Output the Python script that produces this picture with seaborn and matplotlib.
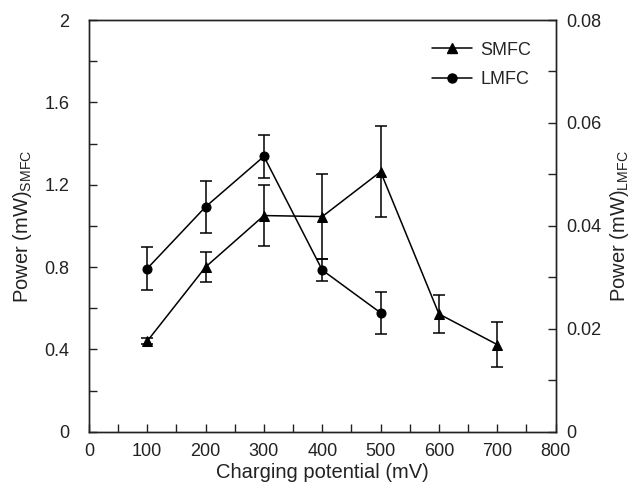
import matplotlib
matplotlib.use("Agg")
import matplotlib.pyplot as plt
import seaborn as sns
import pandas as pd
from matplotlib.ticker import MultipleLocator, FuncFormatter
from matplotlib.lines import Line2D

sns.set_theme(style="ticks")
plt.rcParams['font.family'] = ['Liberation Sans', 'DejaVu Sans']

# Data
x_smfc = [100, 200, 300, 400, 500, 600, 700]
smfc = [0.44, 0.80, 1.05, 1.045, 1.263, 0.572, 0.423]
smfc_err = [0.015, 0.072, 0.15, 0.205, 0.22, 0.092, 0.11]

x_lmfc = [100, 200, 300, 400, 500]
lmfc = [0.0317, 0.0437, 0.0535, 0.0314, 0.0231]
lmfc_err = [0.0041, 0.0051, 0.0042, 0.0021, 0.0041]

df_s = pd.DataFrame({"x": x_smfc, "y": smfc})
df_l = pd.DataFrame({"x": x_lmfc, "y": lmfc})

fig = plt.figure(figsize=(6.35, 4.88), dpi=100)
ax = fig.add_axes([0.140, 0.1154, 0.735, 0.8436])
ax2 = ax.twinx()

lw = 1.1
ms = 6.5
sns.lineplot(data=df_s, x="x", y="y", ax=ax, color="black", marker="^",
             markersize=ms, linewidth=lw, markeredgecolor="black", legend=False)
ax.errorbar(x_smfc, smfc, yerr=smfc_err, fmt="none", ecolor="black",
            elinewidth=lw, capsize=4, capthick=lw)

sns.lineplot(data=df_l, x="x", y="y", ax=ax2, color="black", marker="o",
             markersize=ms, linewidth=lw, markeredgecolor="black", legend=False)
ax2.errorbar(x_lmfc, lmfc, yerr=lmfc_err, fmt="none", ecolor="black",
             elinewidth=lw, capsize=4, capthick=lw)

ax.set_xlim(0, 800)
ax.set_ylim(0, 2)
ax2.set_ylim(0, 0.08)
ax.xaxis.set_major_locator(MultipleLocator(100))
ax.xaxis.set_minor_locator(MultipleLocator(50))
ax.yaxis.set_major_locator(MultipleLocator(0.4))
ax.yaxis.set_minor_locator(MultipleLocator(0.2))
ax2.yaxis.set_major_locator(MultipleLocator(0.02))
ax2.yaxis.set_minor_locator(MultipleLocator(0.01))

fmt = FuncFormatter(lambda v, p: "%g" % round(v, 4))
ax.xaxis.set_major_formatter(fmt)
ax.yaxis.set_major_formatter(fmt)
ax2.yaxis.set_major_formatter(fmt)

for a in (ax, ax2):
    a.tick_params(which="both", direction="in", labelsize=13, colors="#222222",
                  width=1.0)
    a.tick_params(which="major", length=6)
    a.tick_params(which="minor", length=6)
    for s in a.spines.values():
        s.set_linewidth(1.0)
        s.set_color("#222222")
ax.tick_params(axis="x", pad=8)
ax.tick_params(axis="y", pad=14)
ax2.tick_params(axis="y", pad=7.5)

ax.set_xlabel("Charging potential (mV)", fontsize=14.5, color="#222222", labelpad=2)
ax.set_ylabel("Power (mW)$_{\\mathregular{SMFC}}$", fontsize=14.5, color="#222222", labelpad=7.5)
ax2.set_ylabel("Power (mW)$_{\\mathregular{LMFC}}$", fontsize=14.5, color="#222222", labelpad=5)

handles = [Line2D([], [], color="black", marker="^", markersize=ms, linewidth=lw),
           Line2D([], [], color="black", marker="o", markersize=ms, linewidth=lw)]
ax.legend(handles, ["SMFC", "LMFC"], loc="upper right", frameon=False,
          fontsize=13, bbox_to_anchor=(0.983, 0.987), handlelength=2.2,
          handletextpad=0.5, labelspacing=0.7)

fig.savefig("out.png", dpi=100)
